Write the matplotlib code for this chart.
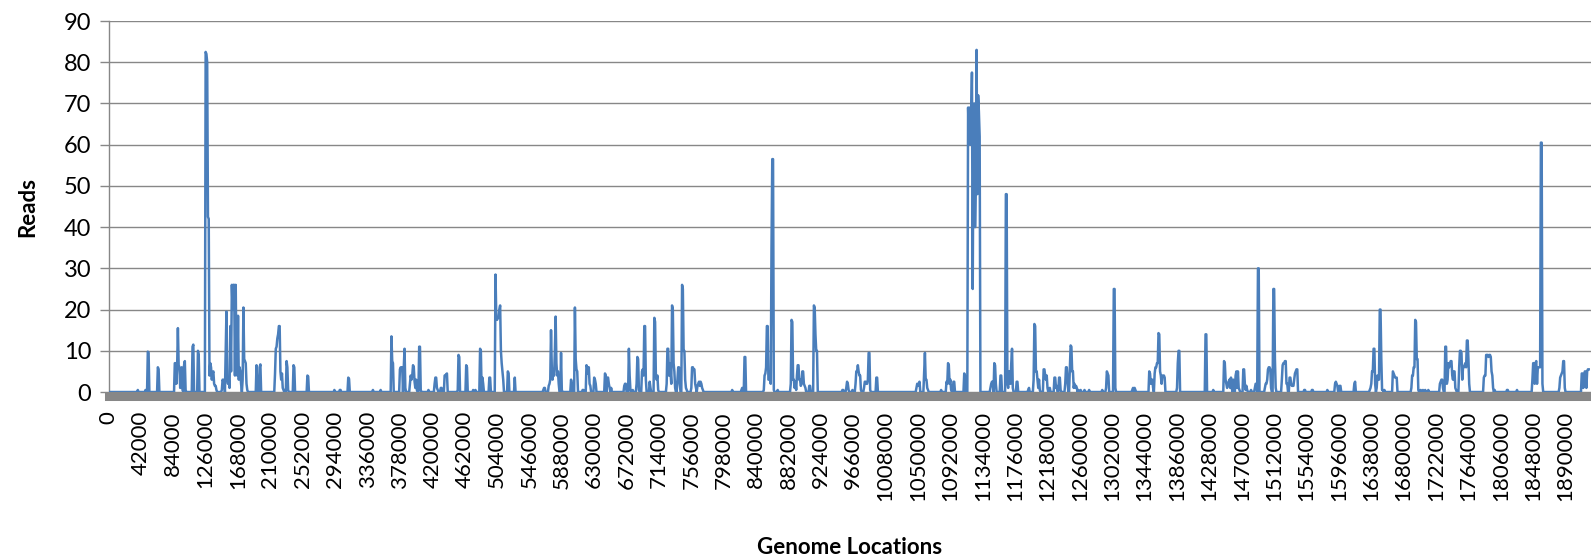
import numpy as np
import matplotlib
matplotlib.use("Agg")
import matplotlib.pyplot as plt

# genome bins are 1 kb wide; only the non-zero bins are listed, all the rest read 0
bin_size = 1000
n_bins = 1921

# 0 - 360 kb
kb_a = [38, 48, 51, 52, 64, 65, 86, 87, 88, 89, 90, 91, 92, 93, 94, 95, 96, 98, 99, 100,
        109, 110, 116, 117, 126, 127, 128, 129, 130, 131, 132, 133, 134, 135, 136, 137, 138, 139, 140,
        147, 148, 149, 150, 152, 153, 154, 155, 156, 157, 158, 159, 160, 161, 162, 163, 164, 165,
        166, 167, 168, 169, 170, 171, 172, 174, 175, 176, 177, 178, 179, 180,
        192, 193, 196, 197, 216, 217, 218, 219, 220, 221, 222, 223, 224, 225, 226, 227,
        231, 232, 233, 240, 241, 258, 259, 293, 300, 301, 311, 312, 343, 353]
reads_a = [0.5, 0.5, 9.8, 9.5, 6, 5.5, 7, 7, 2, 6, 15.5, 6.5, 6, 1, 5.5, 6, 0.5, 6.5, 7.5, 0.5,
           11, 11.5, 10, 9, 82.5, 82, 80, 42.5, 42, 4, 7, 6, 3, 4.5, 5, 2, 1.5, 1.5, 0.5,
           0.5, 3, 2.5, 3, 10, 19.5, 3, 2, 3, 1, 16, 5, 26, 20, 26, 26, 4, 26,
           6, 4, 18.5, 3, 6, 5, 2, 3, 20.5, 8, 7.5, 7, 2, 0.5,
           6.5, 0.5, 6, 6.7, 4.5, 10.5, 11, 13, 14, 16, 16, 5, 3, 4.5, 1, 0.5,
           7.5, 6, 0.5, 6.5, 6, 4, 3.8, 0.5, 0.5, 0.5, 3.5, 3.2, 0.5, 0.5]

# 360 - 1000 kb
kb_b = [367, 368, 369, 378, 379, 380, 381, 383, 384, 385,
        391, 392, 393, 394, 395, 396, 397, 398, 399, 400, 403, 404, 405,
        415, 423, 424, 425, 426, 427, 431, 432, 436, 437, 438, 439,
        453, 454, 455, 464, 465, 473, 476, 482, 483, 485, 486, 494, 495,
        502, 503, 504, 505, 506, 507, 508, 509, 510, 511, 512, 518, 519, 527,
        564, 565, 566, 571, 572, 573, 574, 575, 576, 577, 578, 579, 580, 581, 582, 583, 584, 587, 588,
        600, 601, 605, 606, 607, 608, 615, 616, 620, 621, 622, 623, 624, 625, 630, 631, 632,
        644, 645, 647, 648, 649, 650, 652,
        669, 670, 671, 675, 676, 677, 680, 685, 686, 687, 688, 692, 693, 694, 695, 696, 697,
        702, 703, 708, 709, 710, 711, 712, 713,
        724, 725, 726, 727, 728, 729, 730, 731, 732, 733, 734, 735, 738, 739, 740, 741,
        744, 745, 746, 747, 748, 749, 750, 756, 757, 758, 759, 760, 761, 762,
        764, 765, 766, 767, 768, 769, 770, 771,
        809, 821, 822, 825, 826,
        850, 851, 852, 853, 854, 855, 856, 857, 858, 859, 860, 861, 862, 863, 868,
        885, 886, 887, 888, 889, 890, 891, 892, 893, 894, 895, 896, 897, 898, 899, 900, 901, 902, 903, 904,
        909, 910, 915, 916, 917, 918, 919,
        952, 953, 957, 958, 959, 960, 965, 969, 970, 971, 972, 973, 974, 975, 976,
        980, 981, 982, 983, 984, 985, 986, 987, 988, 996, 997]
reads_b = [13.5, 7.5, 7, 5.5, 6, 5.5, 6, 6, 10.5, 1,
           2, 4, 3, 4, 6.5, 6, 2.5, 1, 3, 0.5, 11, 11, 0.5,
           0.5, 2, 3.5, 3.5, 1, 0.5, 1, 1, 4, 4, 4.3, 4.5,
           0.5, 9, 8.5, 6.5, 6, 0.5, 0.5, 10.5, 10, 3.5, 2, 3.5, 3.5,
           28.5, 18, 17.5, 18, 18, 20, 21, 10, 7, 5, 3, 5, 4.5, 3.5,
           0.5, 1, 1, 1.5, 2, 3, 15, 6, 3, 5, 4, 10, 18.3, 7, 4, 5, 2, 9.5, 0.5,
           3, 2, 20.5, 8, 5.5, 5, 0.5, 0.5, 6.5, 6, 4.5, 6, 2, 1.5, 3.5, 3, 2,
           4.5, 4, 3.5, 3.5, 2, 1, 1,
           1.5, 2, 2, 10.5, 4, 0.5, 0.5, 2, 8.5, 8, 0.5, 5, 5.5, 4, 16, 16, 3,
           2.5, 1, 18, 17, 4, 3, 4, 0.5,
           2, 10.5, 10.5, 4, 7, 5, 2, 21, 20, 7, 5, 1, 3, 6, 6, 2,
           26, 25, 10, 10, 3, 1, 0.5, 1, 6, 6, 5.5, 5.5, 2, 1,
           1.5, 2, 2.5, 1.5, 2.5, 2, 1, 0.5,
           0.5, 0.5, 1, 8.5, 8.5,
           0.5, 4, 4.5, 6, 16, 16, 3, 3, 5, 2, 35, 56.5, 56.5, 0.5, 0.5,
           2, 17.5, 17, 3, 3, 1, 2.5, 0.5, 4, 6.5, 6.5, 3, 3, 1.5, 2, 5, 5, 2, 1.5, 1,
           1.5, 1.5, 21, 20.5, 14, 10, 10,
           0.5, 0.5, 1, 2.5, 2, 0.5, 0.5, 2, 5, 5, 6.5, 5, 4, 4, 0.5,
           1, 2.5, 2.5, 2, 2, 3, 9.5, 9.5, 0.5, 3.5, 3.5]

# 1000 - 1490 kb
kb_c = [1048, 1049, 1050, 1051, 1052, 1058, 1059, 1060, 1061, 1062, 1063,
        1080, 1087, 1088, 1089, 1090, 1091, 1092, 1093, 1096, 1097, 1110, 1111,
        1115, 1116, 1117, 1118, 1119, 1120, 1121, 1122, 1123, 1124, 1125, 1126, 1127, 1128, 1129, 1130,
        1144, 1145, 1146, 1147, 1149, 1150, 1151, 1157, 1158,
        1164, 1165, 1166, 1167, 1168, 1169, 1170, 1171, 1172, 1173, 1178, 1179,
        1193, 1194, 1200, 1201, 1202, 1203, 1204, 1205, 1206, 1207, 1208,
        1213, 1214, 1215, 1216, 1217, 1218, 1221, 1227, 1228, 1229, 1230, 1233, 1234, 1235,
        1241, 1242, 1243, 1244, 1247, 1248, 1249, 1250, 1251, 1252, 1253, 1254, 1255, 1256,
        1258, 1261, 1266, 1272, 1289, 1294, 1295, 1296, 1297, 1304, 1305, 1306,
        1328, 1329, 1331, 1332,
        1350, 1351, 1352, 1353, 1354, 1355, 1357, 1358, 1359, 1360, 1361, 1362, 1363, 1364,
        1365, 1366, 1367, 1368, 1369, 1370, 1386, 1387, 1388, 1389, 1423, 1424,
        1433, 1447, 1448, 1449, 1450, 1451, 1452, 1453, 1454, 1455, 1456, 1457, 1459, 1460,
        1462, 1463, 1464, 1465, 1466, 1467, 1472, 1473, 1474, 1475, 1476, 1477, 1482,
        1487, 1488, 1489]
reads_c = [1, 2, 1.5, 2, 2.5, 5, 9.5, 3, 3, 1, 0.5,
           0.5, 2.5, 2, 7, 6.5, 2, 3, 0.5, 2.5, 2.5, 4.5, 4,
           69, 62, 69, 60, 66, 77.5, 25, 65, 70, 40, 50, 83, 48, 72, 68, 62,
           1, 2, 2.5, 2.5, 7, 6.5, 2, 4, 4,
           48, 48, 2, 1, 5, 5, 2, 7, 10.5, 1, 2.5, 2.5,
           0.5, 1, 3, 16.5, 16, 5, 5, 3, 1, 3, 0.5,
           5.5, 5.5, 4, 3, 4, 1, 1, 3.5, 3.5, 1, 1.5, 3.5, 3.5, 0.5,
           2, 6, 6, 3, 6, 11.3, 11, 5, 5, 1, 2, 1, 1.5, 1,
           0.5, 0.5, 0.5, 0.5, 0.5, 1, 5, 4.5, 4, 25, 25, 1,
           0.5, 1, 1, 0.5,
           5, 4.5, 2, 3, 3, 1, 4.5, 6, 6, 7, 7, 14.3, 14, 5,
           4, 2, 4, 4, 4, 3.5, 1, 7, 10, 10, 14, 14,
           0.5, 7.5, 7, 3, 2, 1, 2, 2.5, 3, 1, 3.5, 1, 3, 1,
           4, 5, 1, 5, 1, 0.5, 5.5, 5.5, 2, 0.5, 1.5, 0.5, 0.5,
           1, 2, 2]

# 1490 kb - end
kb_d = [1491, 1492, 1500, 1501, 1502, 1503, 1504, 1505, 1506, 1507, 1508, 1511, 1512, 1513, 1514,
        1522, 1523, 1524, 1525, 1526, 1527, 1528, 1529, 1532, 1533, 1534, 1535, 1536, 1537,
        1538, 1539, 1540, 1541, 1542,
        1551, 1552, 1561, 1562, 1581, 1591, 1592, 1593, 1594, 1597, 1598, 1616, 1617,
        1636, 1637, 1638, 1639, 1640, 1641, 1642, 1643, 1645, 1646, 1647, 1648, 1649, 1650,
        1651, 1652, 1653, 1655, 1666, 1667, 1668, 1669, 1670, 1671,
        1690, 1691, 1692, 1693, 1694, 1695, 1696, 1697, 1698, 1699, 1702, 1705, 1708, 1712,
        1727, 1728, 1729, 1730, 1731, 1734, 1735, 1736, 1737, 1738, 1739, 1740, 1741, 1742,
        1743, 1744, 1745, 1746, 1747, 1748, 1752, 1753, 1754, 1755, 1756, 1757, 1758, 1759,
        1760, 1761, 1762, 1763, 1764, 1765,
        1784, 1785, 1786, 1787, 1788, 1789, 1790, 1791, 1792, 1793, 1794, 1795, 1796, 1798,
        1814, 1815, 1827,
        1847, 1848, 1849, 1850, 1851, 1852, 1853, 1854, 1855, 1856, 1857, 1858, 1859, 1860,
        1882, 1883, 1884, 1885, 1886, 1887, 1888, 1889,
        1911, 1912, 1913, 1914, 1915, 1916, 1917, 1918, 1919, 1920]
reads_d = [30, 30, 1, 2, 2, 3, 5.5, 6, 6, 5.5, 1, 25, 25, 8, 1,
           3, 6.5, 7, 7, 7.5, 7.5, 2, 2, 3.5, 3.5, 2, 1.5, 1.5, 1.5,
           3, 4.5, 5, 5.5, 5.5,
           0.5, 0.5, 0.5, 0.5, 0.5, 2, 2.5, 2, 1.5, 1.5, 1.5, 2, 2.5,
           0.5, 1, 2, 5, 5, 10.5, 10.5, 2, 1, 4, 3, 3, 20, 20,
           8, 0.5, 0.5, 0.5, 5, 4.5, 4, 3.5, 3.5, 3.5,
           1, 4, 4, 6, 6, 17.5, 17, 8, 8, 0.5, 0.5, 0.5, 0.5, 0.5,
           2, 2.5, 3, 3, 1, 11, 11, 2, 3, 7, 6, 7, 7.5, 7.5,
           4, 3, 5, 5, 1, 0.5, 6, 10, 10, 9.5, 3, 6, 6, 6.5,
           7, 6, 12.5, 12.5, 8, 2,
           3.5, 4, 4, 9, 9, 9, 8.5, 9, 9, 8.5, 5, 4, 1, 0.5,
           0.5, 0.5, 0.5,
           3, 7, 7, 2, 7, 7.5, 2, 6, 6, 6, 6, 60.5, 60.5, 2,
           1, 3.5, 4, 4.5, 5, 7.5, 7.5, 1,
           4.5, 4.5, 1, 4, 5, 5, 1, 5, 5.5, 5.5]

tick_labels = ["0", "42000", "84000", "126000", "168000", "210000", "252000", "294000",
               "336000", "378000", "420000", "462000", "504000", "546000", "588000", "630000",
               "672000", "714000", "756000", "798000", "840000", "882000", "924000", "966000",
               "1008000", "1050000", "1092000", "1134000", "1176000", "1218000", "1260000",
               "1302000", "1344000", "1386000", "1428000", "1470000", "1512000", "1554000",
               "1596000", "1638000", "1680000", "1722000", "1764000", "1806000", "1848000",
               "1890000"]

# full series: every bin, zero where nothing was read
locations = np.arange(n_bins) * bin_size
reads = np.zeros(n_bins)
for kb, rd in [(kb_a, reads_a), (kb_b, reads_b), (kb_c, reads_c), (kb_d, reads_d)]:
    reads[np.array(kb)] = rd

plt.rcParams['font.family'] = ['Lato', 'DejaVu Sans']

fig = plt.figure(figsize=(15.91, 5.59), dpi=100)
ax = fig.add_axes([0.0682, 0.2987, 0.9318, 0.6637])

ax.plot(locations, reads, color="#4a7ebb", lw=1.8, solid_joinstyle="round", zorder=3)

ax.set_xlim(0, 1923 * bin_size)
ax.set_ylim(0, 90)
ax.set_yticks(range(0, 91, 10))
ax.set_xticks([int(t) for t in tick_labels])
ax.set_xticklabels(tick_labels)

ax.grid(axis="y", color="#878787", lw=1.0)
ax.set_axisbelow(True)

for s in ["top", "right"]:
    ax.spines[s].set_visible(False)
ax.spines["left"].set_color("#878787")
ax.spines["left"].set_linewidth(1.0)
ax.spines["bottom"].set_color("#878787")
ax.spines["bottom"].set_linewidth(6.5)
ax.spines["bottom"].set_position(("outward", 3.2))
ax.spines["bottom"].set_zorder(1)

ax.tick_params(axis="y", length=6.5, width=1.0, color="#878787", pad=6, labelsize=17)
ax.tick_params(axis="x", length=0, pad=10.5, labelsize=16, labelrotation=90)

ax.set_ylabel("Reads", fontsize=16, fontweight="bold")
ax.set_xlabel("Genome Locations", fontsize=16, fontweight="bold")
ax.yaxis.set_label_coords(-0.0545, 0.5)
ax.xaxis.set_label_coords(0.5, -0.42)
ax.xaxis.label.set_va("center")
ax.yaxis.label.set_va("center")

fig.savefig("out.png", dpi=100)
